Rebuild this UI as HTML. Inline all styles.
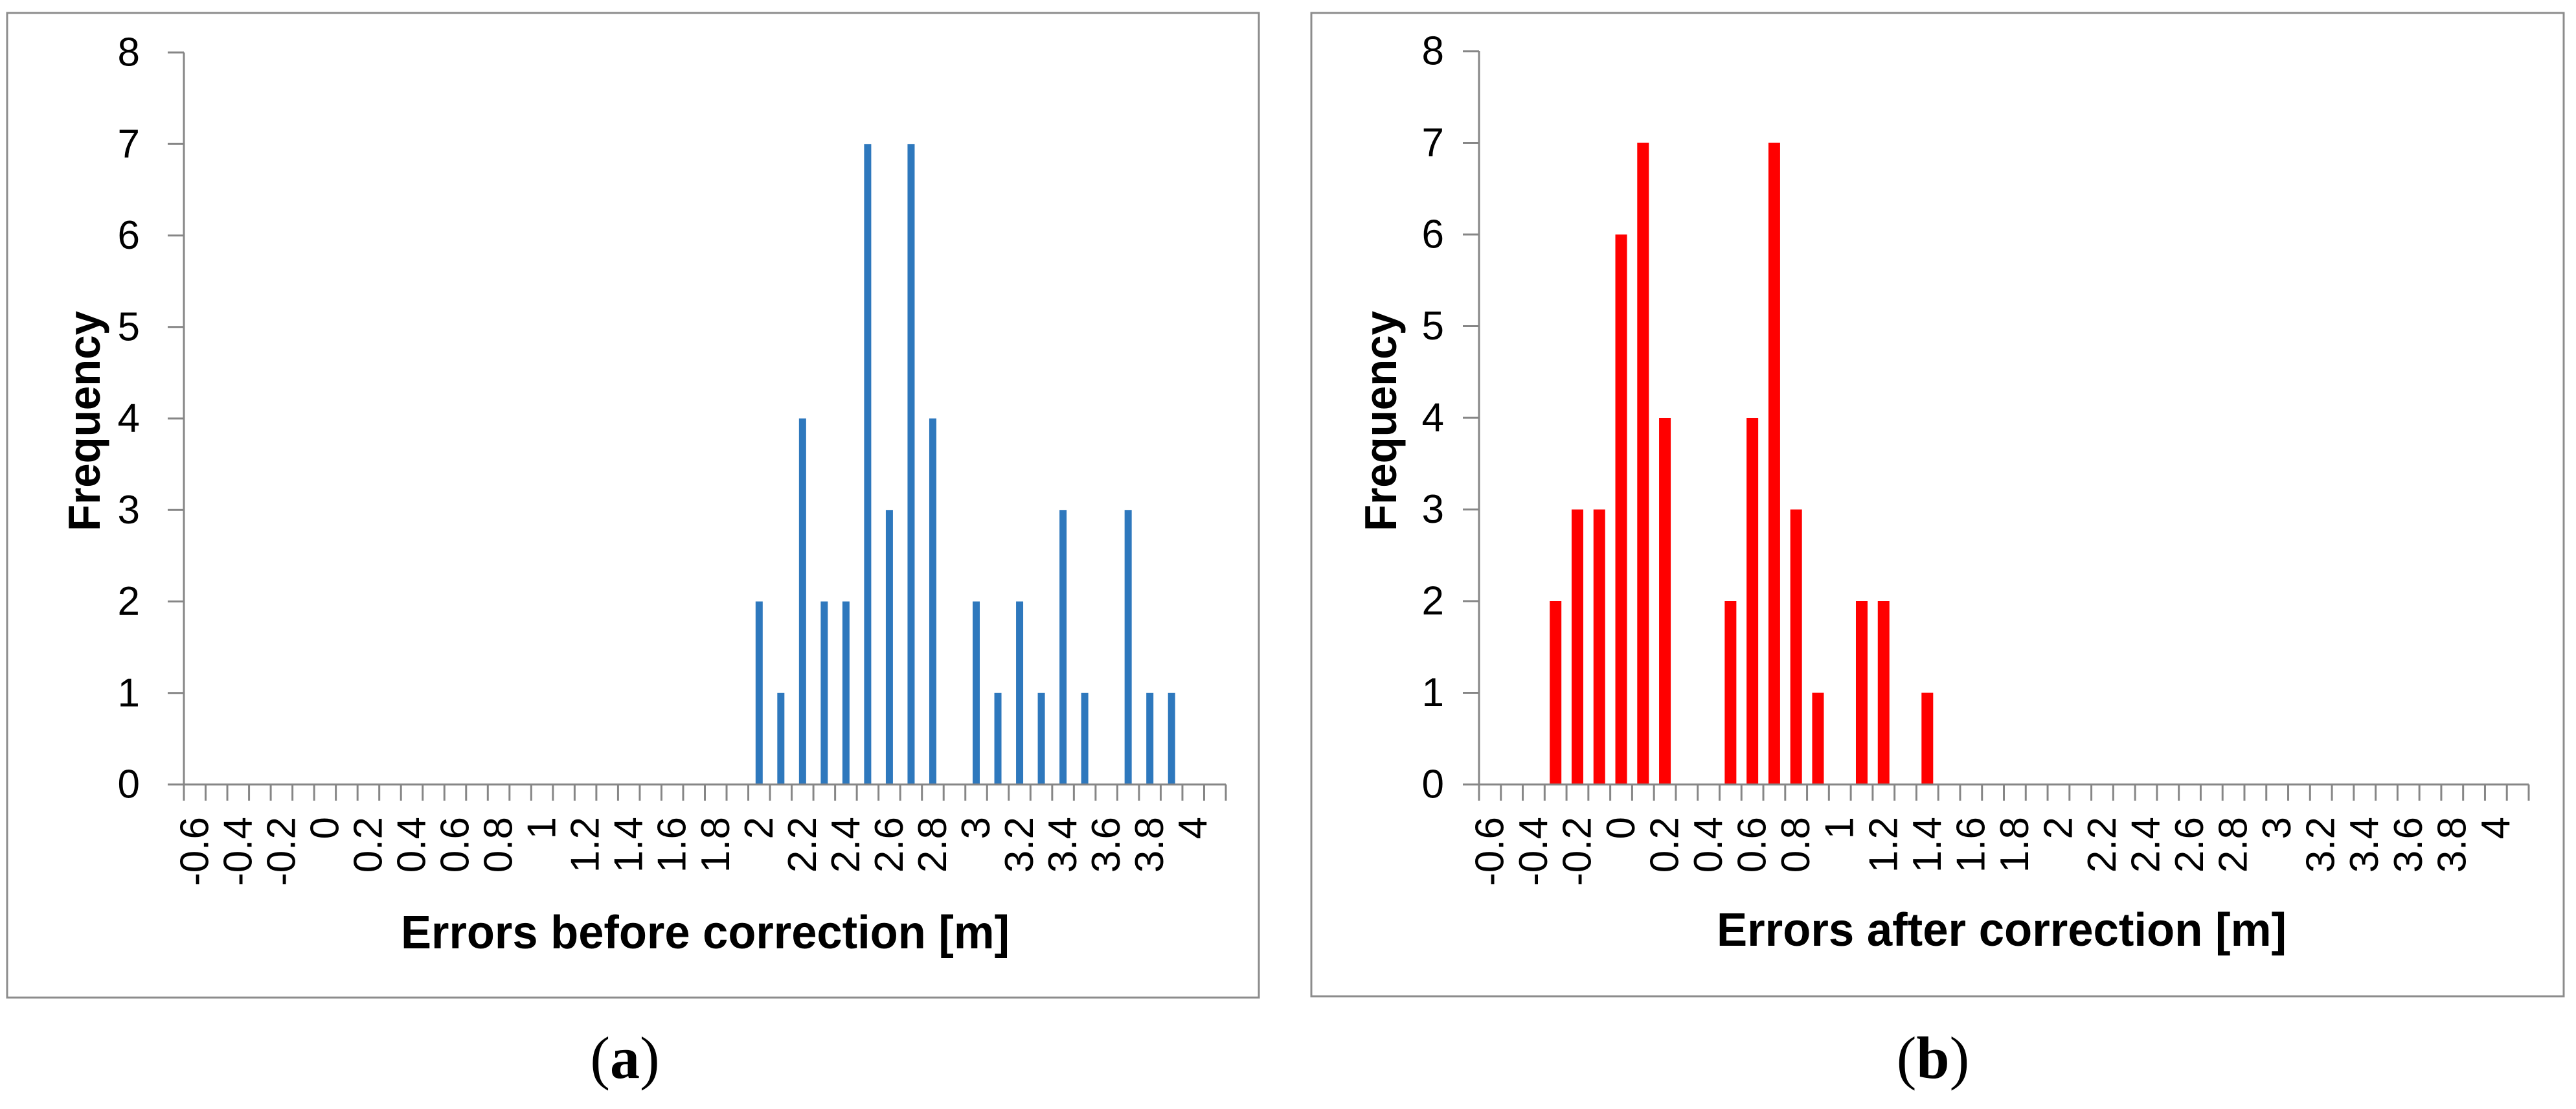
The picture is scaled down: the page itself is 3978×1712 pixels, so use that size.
<!DOCTYPE html>
<html>
<head>
<meta charset="utf-8">
<style>
  html,body{margin:0;padding:0;background:#fff;}
  body{width:3978px;height:1712px;overflow:hidden;position:relative;}
  svg{position:absolute;left:0;top:0;}
</style>
</head>
<body>
<svg id="fig" width="3978" height="1712" viewBox="0 0 3978 1712" xmlns="http://www.w3.org/2000/svg" font-family="Liberation Sans, sans-serif"></svg>
<script>
// categories: -0.6 .. 4.0 step 0.1, plus an unlabeled "More" bin
const categories = ["-0.6","-0.5","-0.4","-0.3","-0.2","-0.1","0","0.1","0.2","0.3","0.4","0.5","0.6","0.7","0.8","0.9","1","1.1","1.2","1.3","1.4","1.5","1.6","1.7","1.8","1.9","2","2.1","2.2","2.3","2.4","2.5","2.6","2.7","2.8","2.9","3","3.1","3.2","3.3","3.4","3.5","3.6","3.7","3.8","3.9","4","More"];
const tickLabels = ["-0.6","","-0.4","","-0.2","","0","","0.2","","0.4","","0.6","","0.8","","1","","1.2","","1.4","","1.6","","1.8","","2","","2.2","","2.4","","2.6","","2.8","","3","","3.2","","3.4","","3.6","","3.8","","4",""];
const yTicks = [0,1,2,3,4,5,6,7,8];
const beforeValues = [0,0,0,0,0,0,0,0,0,0,0,0,0,0,0,0,0,0,0,0,0,0,0,0,0,0,2,1,4,2,2,7,3,7,4,0,2,1,2,1,3,1,0,3,1,1,0,0];
const afterValues  = [0,0,0,2,3,3,6,7,4,0,0,2,4,7,3,1,0,2,2,0,1,0,0,0,0,0,0,0,0,0,0,0,0,0,0,0,0,0,0,0,0,0,0,0,0,0,0,0];

const NS = "http://www.w3.org/2000/svg";
const svg = document.getElementById("fig");
function mk(tag, attrs, parent){
  const e = document.createElementNS(NS, tag);
  for (const k in attrs) e.setAttribute(k, attrs[k]);
  (parent||svg).appendChild(e);
  return e;
}

function panel(cfg){
  const g = mk("g", {});
  
  
  const fr = mk("rect", {x:cfg.fx, y:cfg.fy, width:cfg.fw, height:cfg.fh, fill:"#fff", stroke:"#8c8c8c", "stroke-width":3}, g);
  
  

  const x0 = cfg.ax0, x1 = cfg.ax1, yb = cfg.y0, yt = cfg.y8;
  const n = categories.length;
  const cw = (x1 - x0) / n;
  const xScale = i => x0 + (i + 0.5) * cw;
  const yScale = v => yb - (yb - yt) * v / 8;

  const ya = mk("line", {x1:x0, y1:yt, x2:x0, y2:yb, stroke:"#868686", "stroke-width":3}, g);
  
  
  yTicks.forEach(v => {
    const y = yScale(v);
    const t = mk("line", {x1:x0-25, y1:y, x2:x0, y2:y, stroke:"#868686", "stroke-width":3}, g);
    
    
    const l = mk("text", {x:cfg.ylabX, y:y, "text-anchor":"end", "dominant-baseline":"central", "font-size":62, fill:"#000"}, g);
    
    
    l.textContent = v;
  });

  cfg.values.forEach((v, i) => {
    if (v <= 0) return;
    const b = mk("rect", {x:xScale(i) - cfg.bw/2, y:yScale(v), width:cfg.bw, height:yb - yScale(v), fill:cfg.color}, g);
    
    
  });

  const xa = mk("line", {x1:x0, y1:yb, x2:x1, y2:yb, stroke:"#868686", "stroke-width":3}, g);
  
  
  for (let i = 0; i <= n; i++) {
    const x = x0 + i * cw;
    const t = mk("line", {x1:x, y1:yb, x2:x, y2:yb+25, stroke:"#868686", "stroke-width":3}, g);
    
    
  }
  tickLabels.forEach((s, i) => {
    if (!s) return;
    const l = mk("text", {transform:"translate(" + xScale(i) + "," + (yb+50) + ") rotate(-90)", "text-anchor":"end", "dominant-baseline":"central", "font-size":62, fill:"#000"}, g);
    
    
    l.textContent = s;
  });

  const yt2 = mk("text", {transform:"translate(" + cfg.ytX + "," + cfg.ytY + ") rotate(-90)", "text-anchor":"middle", "dominant-baseline":"central", "font-size":70, "font-weight":"bold", textLength:340, lengthAdjust:"spacingAndGlyphs", fill:"#000"}, g);
  
  
  yt2.textContent = "Frequency";
  const xt = mk("text", {x:cfg.xtX, y:cfg.xtY, "text-anchor":"middle", "dominant-baseline":"central", "font-size":72, "font-weight":"bold", textLength:cfg.xtLen, lengthAdjust:"spacingAndGlyphs", fill:"#000"}, g);
  
  
  xt.textContent = cfg.xTitle;

  const cap = mk("text", {x:cfg.capX, y:cfg.capY, "text-anchor":"middle", "dominant-baseline":"central", "font-size":92, "font-family":"Liberation Serif, serif", fill:"#000"}, svg);
  
  
  const p1 = mk("tspan", {}, cap); p1.textContent = "(";
  const p2 = mk("tspan", {"font-weight":"bold"}, cap); p2.textContent = cfg.cap;
  const p3 = mk("tspan", {}, cap); p3.textContent = ")";
}

panel({name:"chart-before", fx:11, fy:20, fw:1933, fh:1520, ax0:284, ax1:1893, y0:1211, y8:81,
  ylabX:216, bw:11, color:"#2e78bd", values:beforeValues,
  ytX:130, ytY:650, xtX:1089, xtY:1440, xtLen:940, xTitle:"Errors before correction [m]",
  capX:965, capY:1633, cap:"a"});
panel({name:"chart-after", fx:2025, fy:20, fw:1934, fh:1518, ax0:2284, ax1:3905, y0:1211, y8:79,
  ylabX:2230, bw:18, color:"#ff0000", values:afterValues,
  ytX:2132, ytY:650, xtX:3091, xtY:1436, xtLen:880, xTitle:"Errors after correction [m]",
  capX:2985, capY:1633, cap:"b"});
</script>
</body>
</html>
